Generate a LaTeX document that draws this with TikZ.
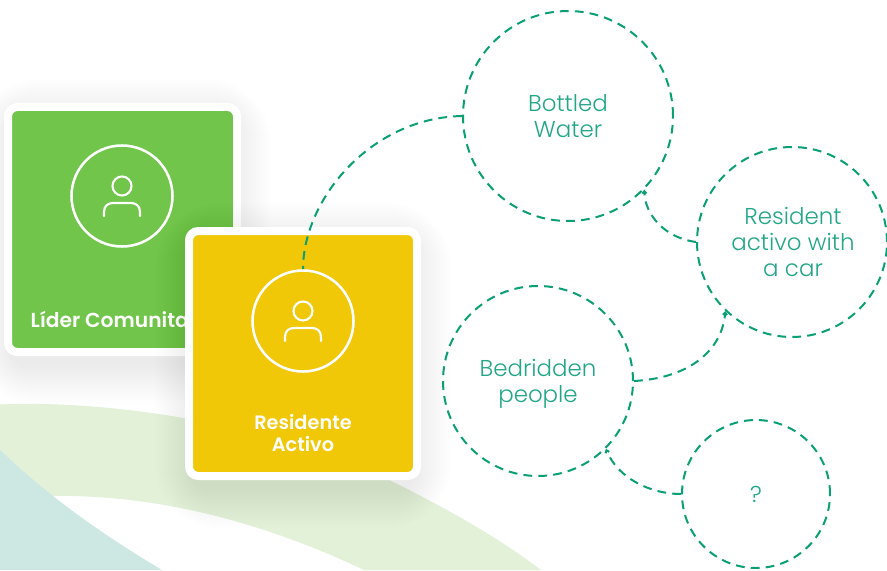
\documentclass[tikz,border=0pt]{standalone}
\usepackage{fontspec}
\usetikzlibrary{arrows.meta}
\setmainfont{Poppins}[UprightFont=* Light,BoldFont=* SemiBold]
\newcommand{\personicon}[2]{%
  \draw[iconline] (#1,#2-10) circle[radius=9.5];
  \draw[iconline,line cap=round] (#1-18,#2+20) -- (#1-18,#2+16) .. controls (#1-18,#2+10) and (#1-14,#2+7) .. (#1-9,#2+7) -- (#1+9,#2+7) .. controls (#1+14,#2+7) and (#1+18,#2+10) .. (#1+18,#2+16) -- (#1+18,#2+20);
}
\newcommand{\softshadow}[4]{%
  \foreach \g in {0,2,...,38}{
    \pgfmathsetmacro{\rr}{10+\g}
    \fill[black,opacity=.0055,rounded corners=\rr] (#1-\g+8,#2-\g+14) rectangle (#3+\g-8,#4+\g+10);
  }
}
\tikzset{
  x=.75pt,y=-.75pt,
  cardbox/.style={draw=white,line width=6pt,rounded corners=7,minimum width=229*.75pt,minimum height=245*.75pt,inner sep=0pt,anchor=center},
  ringline/.style={draw=white,line width=1.9pt,circle,minimum size=101*.75pt,inner sep=0pt},
  iconline/.style={draw=white,line width=1.6pt},
  dashcircle/.style={draw=dashcol,line width=1.5pt,dash pattern=on 6.6pt off 4.6pt,circle,inner sep=0pt},
  link/.style={draw=dashcol,line width=1.5pt,dash pattern=on 6.6pt off 4.6pt},
  smalltip/.style={-{Straight Barb[length=1.8pt,width=3pt]}},
  bubbletext/.style={text=textcol,font=\fontsize{17.2pt}{19.5pt}\selectfont,align=center},
  cardtext/.style={text=white,font=\fontsize{14.5pt}{16.5pt}\selectfont\bfseries,align=center},
}
\definecolor{dashcol}{HTML}{0B9F75}
\definecolor{textcol}{HTML}{22A688}
\definecolor{cardgreen}{HTML}{72C54B}
\definecolor{cardyellow}{HTML}{F0C808}
\definecolor{bandgreen}{HTML}{E2F1D8}
\definecolor{bandteal}{HTML}{CDE8E3}
\begin{document}
\begin{tikzpicture}
\useasboundingbox (0,0) rectangle (887,570);
\begin{scope}
\clip (0,0) rectangle (887,570);
\fill[white] (0,0) rectangle (887,570);
% background bands
\fill[bandgreen] (0,404.5) .. controls (100,400) and (260,420) .. (389,480) .. controls (440,505) and (495,535) .. (541,570) -- (364,570) .. controls (280,530) and (170,494) .. (52,496) -- (0,496) -- cycle;
\fill[bandteal] (0,450) .. controls (50,498) and (105,536) .. (162,570) -- (0,570) -- cycle;
% green card
\softshadow{4}{103}{241}{356}
\node[cardbox,fill=cardgreen] (lider) at (122.5,229.5) {};
\node[ringline] (liderring) at (122,196) {};
\personicon{122}{196}
\node[cardtext,font=\fontsize{15.2pt}{17pt}\selectfont\bfseries,anchor=base west] (lidertext) at (26,327) {Líder Comunitario};
% yellow card
\softshadow{185}{227}{421}{480}
\node[cardbox,fill=cardyellow,minimum width=228*.75pt] (activo) at (303,353.5) {};
\node[ringline] (activoring) at (303,321) {};
\personicon{303}{321}
\node[cardtext] (activotext) at (303,433) {Residente\\Activo};
\end{scope}
% bubbles
\node[dashcircle,minimum size=210*.75pt] (bottled) at (568,116) {};
\node[dashcircle,minimum size=190*.75pt] (resident) at (792,242) {};
\node[dashcircle,minimum size=190*.75pt] (bedridden) at (538,381) {};
\node[dashcircle,minimum size=148*.75pt] (question) at (756,494) {};
\node[bubbletext] (t1) at (568,116) {Bottled\\Water};
\node[bubbletext] (t2) at (793,242) {Resident\\activo with\\a car};
\node[bubbletext] (t3) at (538,384) {Bedridden\\people};
\node[bubbletext] (t4) at (756,494) {?};
% connectors
\draw[link] (bottled.west) .. controls (370,118) and (303,200) .. (activoring.north);
\draw[link,smalltip] (resident.west) .. controls (665,238) and (645,215) .. (bottled.-44);
\draw[link,smalltip] (bedridden.east) .. controls (690,378) and (722,350) .. (resident.-134);
\draw[link,smalltip] (question.west) .. controls (650,494) and (618,478) .. (bedridden.-45);
\end{tikzpicture}
\end{document}
